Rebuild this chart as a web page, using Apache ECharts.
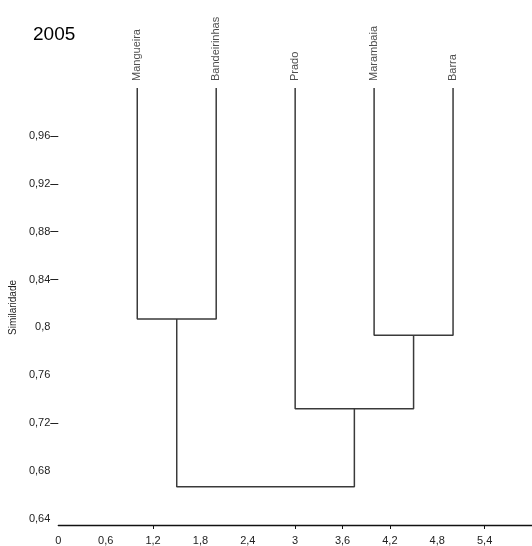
<!DOCTYPE html>
<html><head><meta charset="utf-8">
<script src="https://cdn.jsdelivr.net/npm/echarts@6/dist/echarts.min.js"></script>
<style>html,body{margin:0;padding:0;background:#fff}#c{width:532px;height:546px}</style>
</head><body><div id="c"></div>
<script>
const titleText = '2005';
const leafNames = ['Mangueira', 'Bandeirinhas', 'Prado', 'Marambaia', 'Barra'];
const leafPos = [1, 2, 3, 4, 5];
const leafHeight = 1.0;
// merges: child indices (0-4 leaves, 5+ previous merges) and similarity level
const mergeLeft = [0, 3, 2, 5];
const mergeRight = [1, 4, 6, 7];
const mergeHeight = [0.807, 0.7935, 0.732, 0.667];
const xTickValues = [0, 0.6, 1.2, 1.8, 2.4, 3, 3.6, 4.2, 4.8, 5.4];
const xTickLabels = ['0', '0,6', '1,2', '1,8', '2,4', '3', '3,6', '4,2', '4,8', '5,4'];
const xTickMarks = [1.2, 3, 3.6, 4.2, 5.4];
const yTickValues = [0.64, 0.68, 0.72, 0.76, 0.8, 0.84, 0.88, 0.92, 0.96];
const yTickLabels = ['0,64', '0,68', '0,72', '0,76', '0,8', '0,84', '0,88', '0,92', '0,96'];
const yTickMarks = [0.72, 0.84, 0.88, 0.92, 0.96];
const yName = 'Similaridade';

const FONT = "'Liberation Sans', Arial, sans-serif";
const nodeX = leafPos.slice();
const nodeH = leafPos.map(() => leafHeight);
const linkSeries = [];
mergeLeft.forEach((l, i) => {
  const r = mergeRight[i];
  const h = mergeHeight[i];
  linkSeries.push({
    type: 'line', silent: true, symbol: 'none', animation: false,
    lineStyle: { color: '#3a3a3a', width: 1.5 },
    data: [[nodeX[l], nodeH[l]], [nodeX[l], h], [nodeX[r], h], [nodeX[r], nodeH[r]]]
  });
  nodeX.push((nodeX[l] + nodeX[r]) / 2);
  nodeH.push(h);
});
function lookup(vals, labels, v) {
  const i = vals.findIndex(t => Math.abs(t - v) < 1e-6);
  return i >= 0 ? labels[i] : '';
}
const chart = echarts.init(document.getElementById('c'));
chart.setOption({
  backgroundColor: '#fff',
  animation: false,
  title: { text: titleText, left: 33, top: 25, padding: 0, textStyle: { fontFamily: FONT, fontSize: 19, fontWeight: 'normal', color: '#000' } },
  grid: { left: 56, right: -4, top: 88, bottom: 22, containLabel: false },
  xAxis: {
    type: 'value', min: 0, max: 6, interval: 0.6, offset: 6,
    splitLine: { show: false },
    axisLine: { show: true, lineStyle: { color: '#111', width: 1.3 } },
    axisTick: { show: true, length: 4, customValues: xTickMarks, lineStyle: { color: '#111' } },
    axisLabel: { customValues: xTickValues, margin: 10, fontFamily: FONT, fontSize: 11, color: '#222',
      formatter: v => lookup(xTickValues, xTickLabels, v) }
  },
  yAxis: {
    type: 'value', min: 0.64, max: 1.0, interval: 0.04,
    name: yName, nameLocation: 'middle', nameRotate: 90, nameGap: 34,
    nameTextStyle: { fontFamily: FONT, fontSize: 10, color: '#222', padding: [0, 8, 0, 0] },
    splitLine: { show: false },
    axisLine: { show: false },
    axisTick: { show: true, inside: false, length: 8, customValues: yTickMarks, lineStyle: { color: '#222' } },
    axisLabel: { customValues: yTickValues, margin: 8, fontFamily: FONT, fontSize: 11, color: '#222',
      formatter: v => lookup(yTickValues, yTickLabels, v) }
  },
  series: linkSeries.concat([{
    type: 'scatter', silent: true, symbolSize: 0, itemStyle: { color: 'rgba(0,0,0,0)' },
    data: leafPos.map((x, i) => ({ value: [x, leafHeight], name: leafNames[i] })),
    label: { show: true, formatter: '{b}', rotate: 90, position: 'top', distance: 7,
      align: 'left', verticalAlign: 'middle', fontFamily: FONT, fontSize: 11, color: '#222' }
  }])
});
</script></body></html>
